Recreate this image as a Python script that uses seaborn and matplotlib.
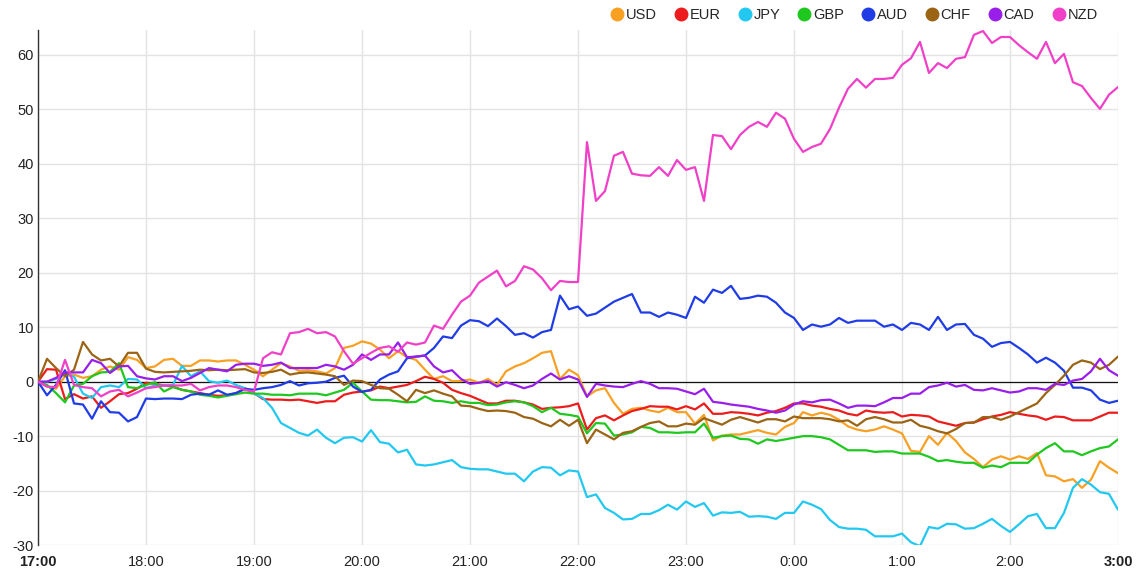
import seaborn as sns
import matplotlib.pyplot as plt
from matplotlib.lines import Line2D
import pandas as pd
import numpy as np

# one reading every 5 minutes from 17:00 to 3:00 (minutes since 17:00)
minutes = np.arange(0, 601, 5)

usd = [0, -0.9, -1.3, 1.0, 1.3, 0.7, 1.0, 2.2, 2.8, 2.2, 4.5, 4.0, 2.5, 2.8, 4.0, 4.2, 2.9, 2.9, 3.9, 3.9,
       3.7, 3.9, 3.9, 3.1, 2.2, 1.0, 2.2, 3.4, 2.8, 2.0, 2.1,
       1.9, 1.5, 2.5, 6.2, 6.6, 7.4, 7.0, 5.9, 4.3, 5.6, 4.5, 4.0, 2.2, 0.5, 1.0, 0.1, 0.1, 0.4, -0.2, 0.5,
       -0.6, 1.9, 2.8, 3.4, 4.3, 5.3, 5.6, 0.5, 2.2, 1.2,
       -2.7, -1.6, -1.2, -3.9, -5.9, -5.0, -4.8, -5.3, -5.6, -4.8, -5.6, -5.6, -7.7, -6.1, -10.8, -9.9, -9.7, -9.7, -9.3, -8.9,
       -9.4, -9.7, -8.3, -7.6, -5.6, -6.2, -5.7, -6.1, -7.0, -8.2,
       -8.8, -9.1, -8.8, -8.2, -8.8, -9.5, -12.7, -12.9, -10.0, -11.6, -9.4, -10.9, -13.0, -14.2, -15.7, -14.3, -13.7, -14.3, -13.7, -14.2,
       -13.1, -17.2, -17.4, -18.3, -17.9, -19.5, -18.0, -14.6, -15.8, -16.8]
eur = [0, 2.3, 2.2, -3.2, -2.3, -3.1, -2.7, -4.8, -3.6, -2.3, -2.1, -1.3, -0.2, -0.4, -0.7, -0.9, -1.5, -1.8, -2.1, -2.4,
       -2.6, -2.5, -2.1, -1.3, -2.1, -3.2, -3.3, -3.3, -3.4, -3.3, -3.6,
       -3.9, -3.6, -3.6, -2.4, -2.0, -1.8, -1.6, -0.9, -1.2, -0.9, -0.6, 0.1, 0.9, 0.5, -0.2, -1.5, -2.1, -2.6, -3.3, -4.0,
       -4.0, -3.5, -3.5, -3.8, -4.2, -5.0, -4.8, -4.7, -4.5, -4.0,
       -8.8, -6.7, -6.2, -7.1, -6.2, -5.4, -5.0, -4.5, -4.6, -4.6, -5.1, -4.5, -5.1, -4.0, -5.9, -5.9, -5.6, -5.7, -5.9, -6.2,
       -5.7, -5.4, -4.8, -4.0, -4.0, -4.4, -4.6, -5.0, -5.3, -5.9,
       -6.2, -5.3, -5.6, -5.7, -5.6, -6.4, -6.1, -6.2, -6.4, -7.3, -7.7, -8.1, -7.6, -7.5, -6.9, -6.4, -6.1, -5.6, -5.9, -6.2,
       -6.4, -7.0, -6.4, -6.5, -7.1, -7.1, -7.1, -6.4, -5.7, -5.7]
jpy = [0, 0.0, 0.5, 1.5, 0.9, -2.2, -3.0, -1.0, -0.7, -1.0, 0.5, 0.4, -1.2, -0.7, -0.7, -0.6, 2.9, 1.0, 1.9, 0.1,
       -0.2, 0.2, -0.6, -1.2, -2.2, -3.0, -4.8, -7.6, -8.5, -9.4, -9.9,
       -8.8, -10.3, -11.3, -10.3, -10.2, -11.0, -8.9, -11.1, -11.4, -13.0, -12.5, -15.2, -15.4, -15.2, -14.8, -14.4, -15.7, -16.0, -16.1, -16.1,
       -16.5, -16.9, -16.9, -18.3, -16.5, -15.7, -15.8, -17.2, -16.3, -16.5,
       -21.2, -20.7, -23.2, -24.1, -25.3, -25.2, -24.3, -24.3, -23.6, -22.6, -23.5, -22.0, -23.0, -22.3, -24.6, -24.0, -24.1, -23.9, -24.8, -24.7,
       -24.8, -25.2, -24.1, -24.1, -22.0, -22.6, -23.4, -25.4, -26.7, -27.0,
       -27.0, -27.2, -28.4, -28.4, -28.4, -27.9, -29.5, -30.2, -26.7, -27.0, -26.1, -26.2, -27.0, -26.9, -26.1, -25.2, -26.5, -27.6, -26.2, -24.7,
       -24.3, -26.9, -26.9, -24.1, -19.5, -17.9, -18.9, -20.3, -20.6, -23.5]
gbp = [0, -0.6, -2.1, -3.8, -0.7, -0.4, 1.0, 1.7, 1.8, 3.4, -1.0, -1.2, -0.6, -0.1, -1.8, -1.0, -1.5, -1.8, -2.4, -2.6,
       -2.9, -2.6, -2.3, -2.0, -2.2, -2.2, -2.4, -2.4, -2.5, -2.2, -2.2,
       -2.2, -2.5, -2.0, -1.5, -0.2, -1.8, -3.3, -3.4, -3.4, -3.6, -3.8, -3.7, -2.7, -3.5, -3.6, -3.9, -3.6, -3.9, -3.9, -4.3,
       -4.2, -3.8, -3.6, -3.8, -4.5, -5.6, -4.8, -5.9, -6.1, -6.4,
       -9.5, -7.6, -7.7, -9.9, -9.7, -9.3, -8.3, -8.5, -9.3, -9.3, -9.4, -9.3, -9.3, -7.7, -10.3, -10.0, -9.9, -10.5, -10.6, -11.4,
       -10.6, -10.9, -10.6, -10.3, -10.0, -10.0, -10.2, -10.6, -11.6, -12.6,
       -12.6, -12.6, -12.9, -12.8, -12.8, -13.2, -13.2, -13.2, -13.8, -14.6, -14.4, -14.7, -14.9, -14.9, -15.8, -15.4, -15.7, -14.9, -14.9, -14.9,
       -13.4, -12.2, -11.3, -12.8, -12.8, -13.5, -12.8, -12.2, -11.9, -10.6]
aud = [0, -2.5, -0.6, 2.1, -4.0, -4.2, -6.8, -3.6, -5.6, -5.7, -7.3, -6.5, -3.1, -3.2, -3.1, -3.1, -3.2, -2.4, -2.2, -2.4,
       -1.6, -2.4, -2.1, -1.3, -1.5, -1.2, -1.0, -0.6, 0.1, -0.7, -0.3,
       -0.2, 0.0, 0.7, 1.1, -0.9, -1.9, -1.5, 0.4, 1.3, 1.9, 4.3, 4.6, 4.8, 6.2, 8.3, 8.0, 10.3, 11.3, 11.1, 10.2,
       11.6, 10.2, 8.6, 8.9, 8.1, 9.1, 9.5, 15.8, 13.3, 13.8,
       12.1, 12.5, 13.6, 14.7, 15.4, 16.1, 12.7, 12.7, 11.9, 12.7, 12.3, 11.7, 15.6, 14.5, 16.9, 16.3, 17.6, 15.2, 15.4, 15.8,
       15.6, 14.5, 12.7, 11.7, 9.5, 10.5, 10.1, 10.5, 11.7, 10.8,
       11.2, 11.2, 11.2, 10.1, 10.5, 9.5, 10.8, 10.5, 9.5, 11.9, 9.5, 10.5, 10.6, 8.6, 7.9, 6.4, 7.1, 7.3, 6.2, 5.0,
       3.5, 4.4, 3.5, 2.0, -1.1, -1.1, -1.6, -3.3, -3.9, -3.5]
chf = [0, 4.2, 2.5, 1.0, 2.2, 7.3, 5.0, 3.9, 4.2, 2.8, 5.3, 5.3, 2.4, 1.8, 1.7, 1.8, 1.9, 2.0, 2.2, 2.1,
       2.2, 2.1, 2.2, 2.3, 1.7, 1.6, 1.8, 2.2, 1.3, 1.6, 1.7,
       1.5, 1.3, 1.0, -0.6, 0.2, 0.1, -0.6, -1.2, -1.3, -2.4, -3.6, -1.5, -2.1, -1.6, -2.2, -2.7, -4.4, -4.5, -5.0, -5.4,
       -5.3, -5.4, -5.7, -6.5, -6.8, -7.6, -8.2, -7.0, -8.1, -7.0,
       -11.3, -8.8, -9.7, -10.6, -9.4, -9.1, -8.3, -7.6, -7.3, -8.2, -8.2, -7.7, -7.9, -6.7, -7.3, -7.9, -7.0, -6.5, -7.0, -7.5,
       -6.9, -6.9, -7.3, -6.4, -6.7, -6.7, -6.7, -6.9, -7.3, -7.1,
       -8.1, -6.9, -6.5, -6.9, -7.5, -7.5, -7.0, -8.1, -8.5, -9.1, -9.5, -8.7, -7.6, -7.5, -6.5, -6.5, -7.0, -6.4, -5.6, -4.8,
       -4.0, -2.1, -0.6, 1.1, 3.1, 3.9, 3.5, 2.3, 3.1, 4.6]
cad = [0, 0.0, 0.7, 1.7, 1.7, 1.7, 4.0, 3.4, 1.6, 2.8, 2.9, 1.0, 0.6, 0.4, 1.0, 1.0, 0.1, 0.7, 1.6, 2.5,
       2.2, 1.9, 3.1, 3.3, 3.3, 2.9, 3.1, 3.5, 2.5, 2.5, 2.5,
       2.5, 3.1, 2.8, 2.2, 3.1, 5.0, 4.0, 5.0, 5.0, 7.2, 4.5, 4.6, 4.8, 2.8, 1.7, 2.1, 0.5, -0.4, -0.2, 0.1,
       -0.9, -0.1, -0.6, -1.2, -0.7, 0.5, 1.5, 0.4, 1.0, 0.4,
       -2.8, -0.4, -0.7, -0.9, -1.0, -0.4, 0.1, -0.4, -1.2, -1.2, -1.3, -1.8, -2.3, -1.3, -3.7, -3.9, -4.2, -4.4, -4.6, -5.0,
       -5.3, -5.7, -5.3, -4.2, -3.6, -3.8, -3.4, -3.3, -4.0, -4.8,
       -4.4, -4.4, -4.5, -3.8, -3.0, -3.0, -2.2, -2.2, -1.0, -0.7, -0.2, -0.9, -0.6, -1.5, -1.6, -1.2, -1.6, -2.0, -1.8, -1.2,
       -1.2, -1.5, -0.4, -0.6, 0.2, 0.5, 1.9, 4.2, 2.1, 1.1]
nzd = [0, -0.9, -1.0, 4.0, -0.6, -1.0, -1.2, -2.7, -1.8, -1.5, -2.7, -2.0, -1.2, -1.0, -0.7, -0.7, -0.7, -0.4, -1.6, -1.0,
       -0.7, -0.7, -1.0, -1.5, -1.8, 4.3, 5.4, 5.0, 8.9, 9.1, 9.7,
       8.9, 9.1, 8.3, 5.6, 3.3, 4.3, 5.3, 6.2, 6.5, 5.5, 7.2, 6.8, 7.2, 10.3, 9.7, 12.3, 14.7, 15.8, 18.2, 19.3,
       20.4, 17.5, 18.5, 21.2, 20.6, 19.0, 16.8, 18.5, 18.3, 18.3,
       44.0, 33.2, 35.0, 41.5, 42.2, 38.2, 37.9, 37.8, 39.4, 37.8, 40.7, 38.9, 39.4, 33.2, 45.3, 45.1, 42.7, 45.3, 46.8, 47.7,
       46.8, 49.4, 48.3, 44.6, 42.2, 43.1, 43.7, 46.4, 50.3, 53.8,
       55.6, 54.0, 55.6, 55.6, 55.8, 58.2, 59.4, 62.4, 56.7, 58.5, 57.6, 59.3, 59.6, 63.7, 64.4, 62.2, 63.3, 63.3, 61.8, 60.5,
       59.3, 62.4, 58.5, 60.2, 55.0, 54.3, 52.1, 50.1, 52.7, 54.1]

currencies = ["USD", "EUR", "JPY", "GBP", "AUD", "CHF", "CAD", "NZD"]
colors = ["#f7a024", "#ec1c1c", "#22c8f0", "#1ec81e", "#1f3ce6", "#9a6414", "#9a1eea", "#f040c8"]
hour_labels = ["17:00", "18:00", "19:00", "20:00", "21:00", "22:00", "23:00", "0:00", "1:00", "2:00", "3:00"]
y_ticks = [-30, -20, -10, 0, 10, 20, 30, 40, 50, 60]

wide = pd.DataFrame(dict(zip(currencies, [usd, eur, jpy, gbp, aud, chf, cad, nzd])))
wide["minute"] = minutes
data = wide.melt(id_vars="minute", var_name="currency", value_name="change")
palette = dict(zip(currencies, colors))

sns.set_style("white")
plt.rcParams["font.family"] = ["Liberation Sans", "DejaVu Sans"]
plt.rcParams["axes.unicode_minus"] = False

fig = plt.figure(figsize=(11.38, 5.88), dpi=100)
ax = fig.add_axes([0.0334, 0.0731, 0.9490, 0.876])

sns.lineplot(data=data, x="minute", y="change", hue="currency", hue_order=currencies,
             palette=palette, linewidth=1.6, legend=False, ax=ax, zorder=3)
ax.axhline(0, color="#111111", linewidth=0.9, zorder=2)

ax.set_xlim(0, 600)
ax.set_ylim(-30, 64.6)
ax.set_xticks(np.arange(0, 601, 60))
ax.set_xticklabels(hour_labels)
ax.set_yticks(y_ticks)
ax.set_xlabel("")
ax.set_ylabel("")
ax.grid(True, color="#e3e3e3", linewidth=1)
ax.set_axisbelow(True)
ax.tick_params(length=0, labelsize=10.5, colors="#222222")
ax.tick_params(axis="x", pad=7)
ax.tick_params(axis="y", pad=3)
for lbl in (ax.get_xticklabels()[0], ax.get_xticklabels()[-1]):
    lbl.set_fontweight("bold")

for side in ["top", "right", "bottom"]:
    ax.spines[side].set_visible(False)
ax.spines["left"].set_color("#333333")
ax.spines["left"].set_linewidth(1)

handles = [Line2D([], [], marker="o", linestyle="", markersize=9, color=palette[c]) for c in currencies]
fig.legend(handles, currencies, loc="upper right", bbox_to_anchor=(0.976, 1.008), ncol=8,
           frameon=False, fontsize=10.5, handletextpad=0.1, columnspacing=1.15, handlelength=1.0)

plt.savefig("out.png", dpi=100)
